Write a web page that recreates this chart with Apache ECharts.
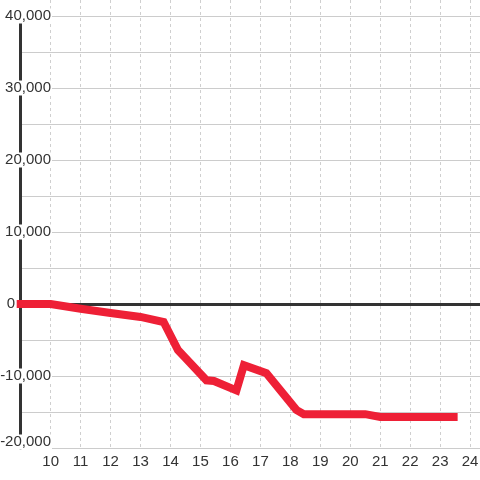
<!DOCTYPE html>
<html>
<head>
<meta charset="utf-8">
<script src="https://cdn.jsdelivr.net/npm/echarts@6/dist/echarts.min.js"></script>
<style>html,body{margin:0;padding:0;background:#fff}#c{width:480px;height:480px}</style>
</head>
<body>
<div id="c"></div>
<script>
var xValues = [9, 10, 11, 12, 13, 13.77, 14.25, 14.5, 15.2, 15.45, 16.2, 16.45, 17.2, 18.2, 18.45, 20.5, 21.0, 23.45];
var yValues = [0, 0, -650, -1250, -1800, -2500, -6400, -7500, -10600, -10700, -12000, -8500, -9600, -14700, -15300, -15300, -15700, -15700];
var xTicks = [10, 11, 12, 13, 14, 15, 16, 17, 18, 19, 20, 21, 22, 23, 24];
var yTicks = [-20000, -10000, 0, 10000, 20000, 30000, 40000];

var seriesData = xValues.map(function (x, i) { return [x, yValues[i]]; });
var font = '"Liberation Sans", Arial, sans-serif';
function fmt(v) { return v.toLocaleString('en-US'); }

var chart = echarts.init(document.getElementById('c'));
chart.setOption({
  backgroundColor: '#ffffff',
  animation: false,
  grid: [
    { left: 20.7, right: 0, top: 16, bottom: 32, containLabel: false, outerBoundsMode: 'none' },
    { left: 20.7, right: 0, top: 0, bottom: 32, containLabel: false, outerBoundsMode: 'none' }
  ],
  xAxis: [
    {
      gridIndex: 0, type: 'value', min: 9, max: 24.33, interval: 1, position: 'bottom',
      axisLine: { show: false, onZero: false }, axisTick: { show: false }, splitLine: { show: false },
      axisLabel: {
        showMinLabel: false, showMaxLabel: false, margin: 6,
        fontSize: 15, fontFamily: font, color: '#333', lineHeight: 15,
        formatter: function (v) { return xTicks.indexOf(v) >= 0 ? String(v) : ''; }
      }
    },
    {
      gridIndex: 0, type: 'value', min: 9, max: 24.33, position: 'top', z: 1,
      axisLine: { show: true, onZero: true, lineStyle: { color: '#333', width: 3 } },
      axisTick: { show: false }, axisLabel: { show: false }, splitLine: { show: false }
    },
    {
      gridIndex: 1, type: 'value', min: 9, max: 24.33, interval: 1,
      axisLine: { show: false }, axisTick: { show: false }, axisLabel: { show: false },
      splitLine: { show: true, showMinLine: false, showMaxLine: false, lineStyle: { color: '#cfcfcf', width: 1, type: [3, 3] } }
    }
  ],
  yAxis: [
    {
      gridIndex: 0, type: 'value', min: -20000, max: 40000, interval: 5000,
      axisLine: { show: false, onZero: false }, axisTick: { show: false }, axisLabel: { show: false },
      splitLine: { show: true, lineStyle: { color: '#cccccc', width: 1 } }
    },
    {
      gridIndex: 0, type: 'value', min: -20000, max: 40000, interval: 10000, position: 'left', z: 1,
      axisLine: { show: true, onZero: false, lineStyle: { color: '#333', width: 3 } },
      axisTick: { show: false }, splitLine: { show: false },
      axisLabel: {
        inside: true, align: 'right', margin: 31.3,
        fontSize: 15, fontFamily: font, color: '#333',
        formatter: function (v) {
          if (yTicks.indexOf(v) < 0) return '';
          if (v === 0) return '{t|0}{s|}';
          if (v === yTicks[0]) return '{t|' + fmt(v) + '}\n{e|}';
          return '{t|' + fmt(v) + '}';
        },
        rich: {
          t: { fontSize: 15, fontFamily: font, color: '#333', lineHeight: 15, backgroundColor: '#fff', padding: [0, 1, 0, 1] },
          s: { width: 36, height: 15 },
          e: { height: 12, lineHeight: 12 }
        }
      }
    },
    {
      gridIndex: 1, type: 'value', min: -20000, max: 40000,
      axisLine: { show: false }, axisTick: { show: false }, axisLabel: { show: false }, splitLine: { show: false }
    }
  ],
  series: [
    {
      type: 'line', xAxisIndex: 0, yAxisIndex: 0, z: 3,
      data: seriesData, showSymbol: false, symbol: 'none',
      lineStyle: { color: '#ee2036', width: 8, cap: 'square', join: 'miter' }
    }
  ]
});
</script>
</body>
</html>
